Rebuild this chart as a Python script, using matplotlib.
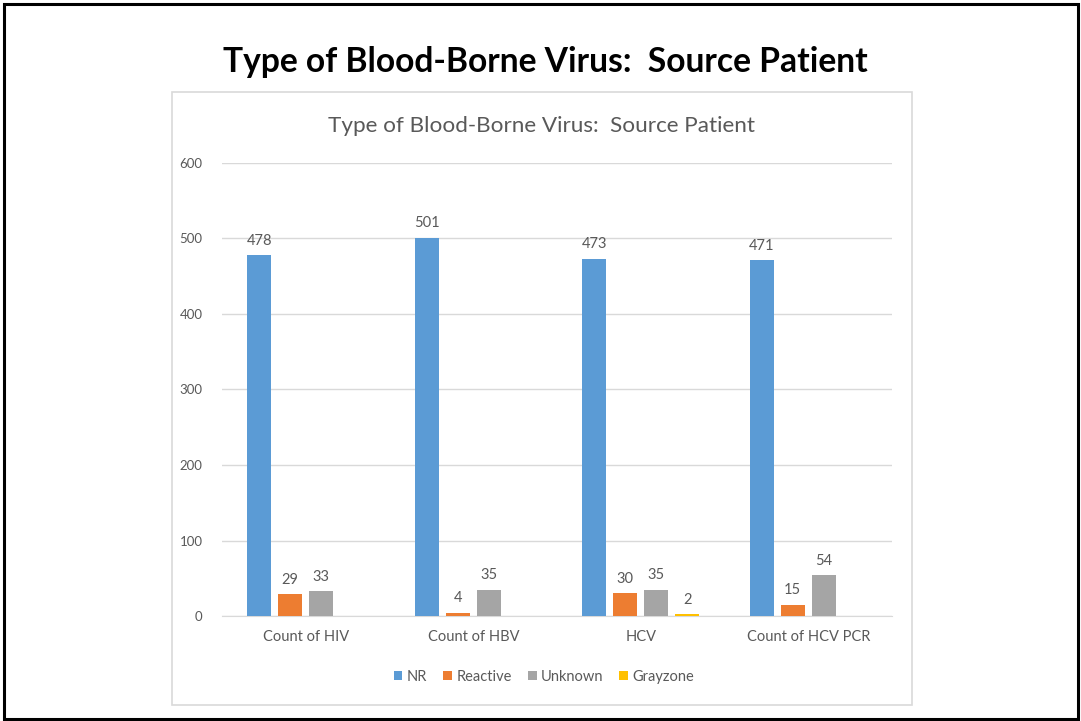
import matplotlib.pyplot as plt
import numpy as np
from matplotlib.patches import Rectangle

plt.rcParams['font.family'] = ['Lato', 'DejaVu Sans']

categories = ["Count of HIV", "Count of HBV", "HCV", "Count of HCV PCR"]
series = ["NR", "Reactive", "Unknown", "Grayzone"]
nr = [478, 501, 473, 471]
reactive = [29, 4, 30, 15]
unknown = [33, 35, 35, 54]
grayzone = [None, None, 2, None]
colors = ["#5B9BD5", "#ED7D31", "#A5A5A5", "#FFC000"]

W, H = 1081, 721
fig = plt.figure(figsize=(W / 100, H / 100), dpi=100)

# outer frame
fig.patches.append(Rectangle((4 / W, 2 / H), 1074 / W, 715 / H, transform=fig.transFigure,
                             fill=False, edgecolor="black", linewidth=2.2))
# inner chart box
fig.patches.append(Rectangle((172 / W, 16 / H), 740 / W, 613 / H, transform=fig.transFigure,
                             fill=False, edgecolor="#D9D9D9", linewidth=1.2))

fig.text(545 / W, 1 - 62 / H, "Type of Blood-Borne Virus:  Source Patient",
         ha="center", va="center", fontsize=24.2, fontweight="bold", color="black")
fig.text(541 / W, 1 - 126 / H, "Type of Blood-Borne Virus:  Source Patient",
         ha="center", va="center", fontsize=16.2, color="#595959")

ax = fig.add_axes([222 / W, 105 / H, 670 / W, 453 / H])
x = np.arange(len(categories))
pitch = 0.185
width = 0.143
data = [nr, reactive, unknown, grayzone]
for i, (name, vals, c) in enumerate(zip(series, data, colors)):
    pos = x + (i - 1.5) * pitch
    v = [0 if a is None else a for a in vals]
    ax.bar(pos, v, width, color=c, label=name, zorder=3)
    for p, a in zip(pos, vals):
        if a is not None:
            ax.text(p, a + 10, str(a), ha="center", va="bottom", fontsize=10.5, color="#595959")

ax.set_xlim(-0.5, 3.5)
ax.set_ylim(0, 600)
ax.set_yticks(range(0, 601, 100))
ax.set_xticks(x)
ax.set_xticklabels(categories)
ax.grid(axis="y", color="#D9D9D9", linewidth=1, zorder=0)
for s in ["top", "right", "left"]:
    ax.spines[s].set_visible(False)
ax.spines["bottom"].set_color("#D9D9D9")
ax.tick_params(axis="y", length=0, pad=14, labelsize=9.5, labelcolor="#595959")
ax.tick_params(axis="x", length=0, pad=10, labelsize=10.5, labelcolor="#595959")

ax.legend(loc="center", bbox_to_anchor=(544 / W, 1 - 677 / H), bbox_transform=fig.transFigure,
          ncol=4, frameon=False, fontsize=10.5, labelcolor="#595959",
          handlelength=0.6, handleheight=0.6, handletextpad=0.3, columnspacing=1.1)

fig.savefig("out.png", dpi=100)
